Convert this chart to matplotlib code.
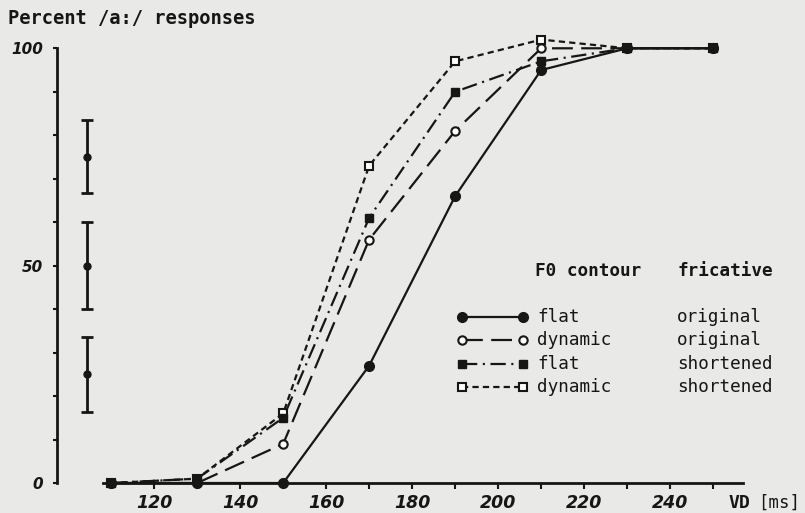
import numpy as np
import matplotlib
matplotlib.use('Agg')
import matplotlib.pyplot as plt
from matplotlib.lines import Line2D

plt.rcParams['lines.scale_dashes'] = False

# vowel duration steps [ms]
vd = [110, 130, 150, 170, 190, 210, 230, 250]

# percent /a:/ responses
flat_original = [0, 0, 0, 27, 66, 95, 100, 100]
dynamic_original = [0, 0, 9, 56, 81, 100, 100, 100]
flat_shortened = [0, 1, 15, 61, 90, 97, 100, 100]
dynamic_shortened = [0, 1, 16, 73, 97, 102, 100, 100]

# spread indicators at the 75 / 50 / 25 % levels
spread_levels = [75, 50, 25]
spread_sizes = [8.4, 10.0, 8.6]

contours = ['flat', 'dynamic', 'flat', 'dynamic']
fricatives = ['original', 'original', 'shortened', 'shortened']

ink = '#161616'
paper = '#e9e9e7'
W, H = 805, 513

fig = plt.figure(figsize=(W / 100, H / 100), dpi=100, facecolor=paper)
# axes placed so that x=97.4..260 and y=-2..104 land where the scan has them
ax = fig.add_axes([57 / W, 1 - 491.7 / H, 162.6 * 4.3 / W, (491.7 - 30.9) / H])
ax.set_facecolor(paper)
ax.set_xlim(97.4, 260)
ax.set_ylim(-2, 104)

styles = [
    dict(ls='-', marker='o', ms=7, mfc=ink, mec=ink),
    dict(ls=(0, (15, 6)), marker='o', ms=6, mfc='white', mec=ink, mew=1.5),
    dict(ls=(0, (11, 4, 1.5, 4)), marker='s', ms=6, mfc=ink, mec=ink),
    dict(ls=(0, (4.5, 3)), marker='s', ms=5.5, mfc='white', mec=ink, mew=1.5),
]
series = [flat_original, dynamic_original, flat_shortened, dynamic_shortened]
for vals, st, z in zip(series, styles, [5, 4, 3, 2]):
    ax.plot(vd, vals, color=ink, lw=1.6, zorder=z, clip_on=False, **st)

ax.errorbar([104.4] * 3, spread_levels, yerr=spread_sizes, fmt='o', ms=5,
            color=ink, elinewidth=2, capsize=4, capthick=2, clip_on=False)

for s in ['top', 'right']:
    ax.spines[s].set_visible(False)
ax.spines['left'].set_bounds(0, 100)
ax.spines['bottom'].set_bounds(108, 257)
ax.spines['bottom'].set_position(('data', 0))
for s in ['left', 'bottom']:
    ax.spines[s].set_linewidth(2)
    ax.spines[s].set_color(ink)

ax.set_xticks(np.arange(110, 251, 10))
ax.set_xticklabels([str(v) if v % 20 == 0 else '' for v in range(110, 251, 10)])
ax.set_yticks(np.arange(0, 101, 10))
ax.set_yticklabels([str(v) if v % 50 == 0 else '' for v in range(0, 101, 10)])
ax.tick_params(axis='x', direction='out', length=4, width=1.5, color=ink, pad=4)
ax.tick_params(axis='y', direction='out', length=3, width=1.5, color=ink, pad=7)
for lab in ax.get_xticklabels() + ax.get_yticklabels():
    lab.set_family(['Liberation Sans Narrow', 'DejaVu Sans'])
    lab.set_fontweight('bold')
    lab.set_fontstyle('italic')
    lab.set_color(ink)
for lab in ax.get_xticklabels():
    lab.set_fontsize(12.5)
for lab in ax.get_yticklabels():
    lab.set_fontsize(11)

mono = 'DejaVu Sans Mono'
fig.text(8 / W, 1 - 19 / H, 'Percent /a:/ responses', family=mono,
         weight='bold', size=13.5, color=ink, va='center', ha='left')
fig.text(728 / W, 1 - 503 / H, 'VD', family=mono, weight='bold', size=13,
         color=ink, va='center', ha='left')
fig.text(758 / W, 1 - 503 / H, '[ms]', family=mono, size=12.5,
         color=ink, va='center', ha='left')

# legend block
fig.text(535 / W, 1 - 271 / H, 'F0 contour', family=mono, weight='bold',
         size=12.7, color=ink, va='center')
fig.text(677 / W, 1 - 271 / H, 'fricative', family=mono, weight='bold',
         size=12.7, color=ink, va='center')
for i, (c, f, st) in enumerate(zip(contours, fricatives, styles)):
    y = 1 - (317 + 23.3 * i) / H
    line = Line2D([462 / W, 523 / W], [y, y], transform=fig.transFigure,
                  color=ink, lw=1.6, **st)
    fig.add_artist(line)
    fig.text(537 / W, y, c, family=mono, size=12.7, color=ink, va='center')
    fig.text(677 / W, y, f, family=mono, size=12.7, color=ink, va='center')

fig.savefig('out.png', dpi=100, facecolor=paper)
